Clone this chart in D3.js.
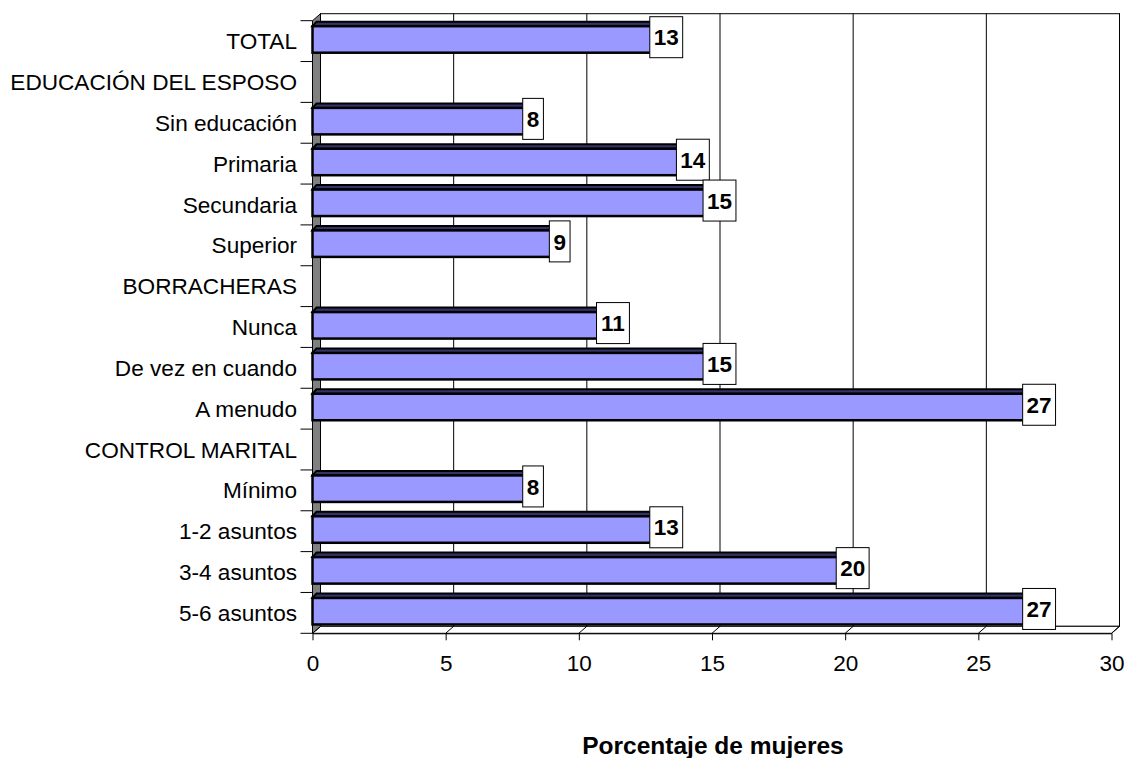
<!DOCTYPE html>
<html>
<head>
<meta charset="utf-8">
<script src="https://cdn.jsdelivr.net/npm/d3@7"></script>
<style>
  body { margin: 0; background: #fff; }
  svg { font-family: "Liberation Sans", Arial, sans-serif; }
</style>
</head>
<body>
<div class="visHolder"></div>
<script>
// chart data
var categories = ["TOTAL", "EDUCACIÓN DEL ESPOSO", "Sin educación", "Primaria", "Secundaria", "Superior",
    "BORRACHERAS", "Nunca", "De vez en cuando", "A menudo",
    "CONTROL MARITAL", "Mínimo", "1-2 asuntos", "3-4 asuntos", "5-6 asuntos"];
var values = [13, null, 8, 14, 15, 9, null, 11, 15, 27, null, 8, 13, 20, 27];
var xTicks = [0, 5, 10, 15, 20, 25, 30];
var axisTitle = "Porcentaje de mujeres";

var W = 1125, H = 758;
// depth of the 3d box
var dx = 8, dy = 7;

var svg = d3.select(".visHolder")
    .append("svg")
    .attr("width", W)
    .attr("height", H);

var x = d3.scaleLinear().domain([0, 30]).range([312.5, 1111.5]);
var y = d3.scaleBand().domain(categories).range([20.7, 633.3]);

var x0 = x(0), x1 = x(30);
var yTop = y.range()[0], yBot = y.range()[1];

// back wall
svg.append("rect")
    .attr("x", x0 + dx)
    .attr("y", yTop - dy)
    .attr("width", x1 - x0)
    .attr("height", yBot - yTop)
    .style("fill", "#fff")
    .style("stroke", "#000")
    .style("stroke-width", 1);

// gridlines on back wall
svg.selectAll(".grid")
    .data(xTicks.slice(1))
    .enter()
    .append("line")
    .attr("class", "grid")
    .attr("x1", (d) => x(d) + dx)
    .attr("x2", (d) => x(d) + dx)
    .attr("y1", yTop - dy)
    .attr("y2", yBot - dy)
    .style("stroke", "#000")
    .style("stroke-width", 1);

// floor
svg.append("path")
    .attr("d", `M${x0},${yBot}L${x1},${yBot}L${x1 + dx},${yBot - dy}L${x0 + dx},${yBot - dy}Z`)
    .style("fill", "#fff")
    .style("stroke", "#000")
    .style("stroke-width", 1);

svg.selectAll(".floortick")
    .data(xTicks)
    .enter()
    .append("line")
    .attr("class", "floortick")
    .attr("x1", (d) => x(d))
    .attr("x2", (d) => x(d) + dx)
    .attr("y1", yBot)
    .attr("y2", yBot - dy)
    .style("stroke", "#000")
    .style("stroke-width", 1);

// left side wall
svg.append("path")
    .attr("d", `M${x0},${yTop}L${x0 + dx},${yTop - dy}L${x0 + dx},${yBot - dy}L${x0},${yBot}Z`)
    .style("fill", "#808080")
    .style("stroke", "#000")
    .style("stroke-width", 1);

// x axis ticks + labels
var xAxis = svg.append("g")
    .attr("id", "x-axis")
    .attr("transform", `translate(0, ${yBot})`)
    .call(d3.axisBottom(x).tickValues(xTicks).tickSize(7).tickPadding(15).tickSizeOuter(0));
xAxis.select(".domain").style("stroke", "#000");
xAxis.selectAll("line").style("stroke", "#000");
xAxis.selectAll("text")
    .style("font-size", "22.5px")
    .style("font-family", "Liberation Sans, Arial, sans-serif")
    .style("fill", "#000");

// y axis: category ticks between bands + labels
var yEdges = categories.map((c) => y(c)).concat([yBot]);
svg.selectAll(".ytick")
    .data(yEdges)
    .enter()
    .append("line")
    .attr("class", "ytick")
    .attr("x1", x0 - 12)
    .attr("x2", x0)
    .attr("y1", (d) => d)
    .attr("y2", (d) => d)
    .style("stroke", "#000")
    .style("stroke-width", 1);

svg.append("line")
    .attr("x1", x0).attr("x2", x0)
    .attr("y1", yTop).attr("y2", yBot)
    .style("stroke", "#000");

svg.selectAll(".cat")
    .data(categories)
    .enter()
    .append("text")
    .attr("class", "cat")
    .attr("x", 297)
    .attr("y", (d) => y(d) + y.bandwidth() / 2)
    .attr("dy", "0.36em")
    .style("text-anchor", "end")
    .style("font-size", "22.6px")
    .text((d) => d);

// bars
var barData = categories.map((c, i) => ({ cat: c, v: values[i] })).filter((d) => d.v !== null);

var bars = svg.selectAll(".bar")
    .data(barData)
    .enter()
    .append("g")
    .attr("class", "bar");

// top face
bars.append("path")
    .attr("d", (d) => {
        var t = y(d.cat) + 5.5, e = x(d.v);
        return `M${x0},${t}L${x0 + 4},${t - 4.5}L${e + 4},${t - 4.5}L${e},${t}Z`;
    })
    .style("fill", "#333366")
    .style("stroke", "#000")
    .style("stroke-width", 2);

// front face
bars.append("rect")
    .attr("x", x0)
    .attr("y", (d) => y(d.cat) + 5.5)
    .attr("width", (d) => x(d.v) - x0)
    .attr("height", 26.5)
    .style("fill", "#9999FF")
    .style("stroke", "#000")
    .style("stroke-width", 2.5);

// value labels
var labels = svg.selectAll(".vlab")
    .data(barData)
    .enter()
    .append("g")
    .attr("class", "vlab")
    .attr("transform", (d) => `translate(${x(d.v) + 7.5}, ${y(d.cat) + 16.5})`);

labels.append("rect")
    .attr("x", (d) => -(String(d.v).length * 12.2 + 8.5) / 2)
    .attr("y", -20.5)
    .attr("width", (d) => String(d.v).length * 12.2 + 8.5)
    .attr("height", 41)
    .style("fill", "#fff")
    .style("stroke", "#000")
    .style("stroke-width", 1);

labels.append("text")
    .attr("dy", "0.36em")
    .style("text-anchor", "middle")
    .style("font-weight", "bold")
    .style("font-size", "22.5px")
    .text((d) => d.v);

// axis title
svg.append("text")
    .attr("x", 713)
    .attr("y", 754)
    .style("text-anchor", "middle")
    .style("font-weight", "bold")
    .style("font-size", "24.5px")
    .text(axisTitle);
</script>
</body>
</html>
